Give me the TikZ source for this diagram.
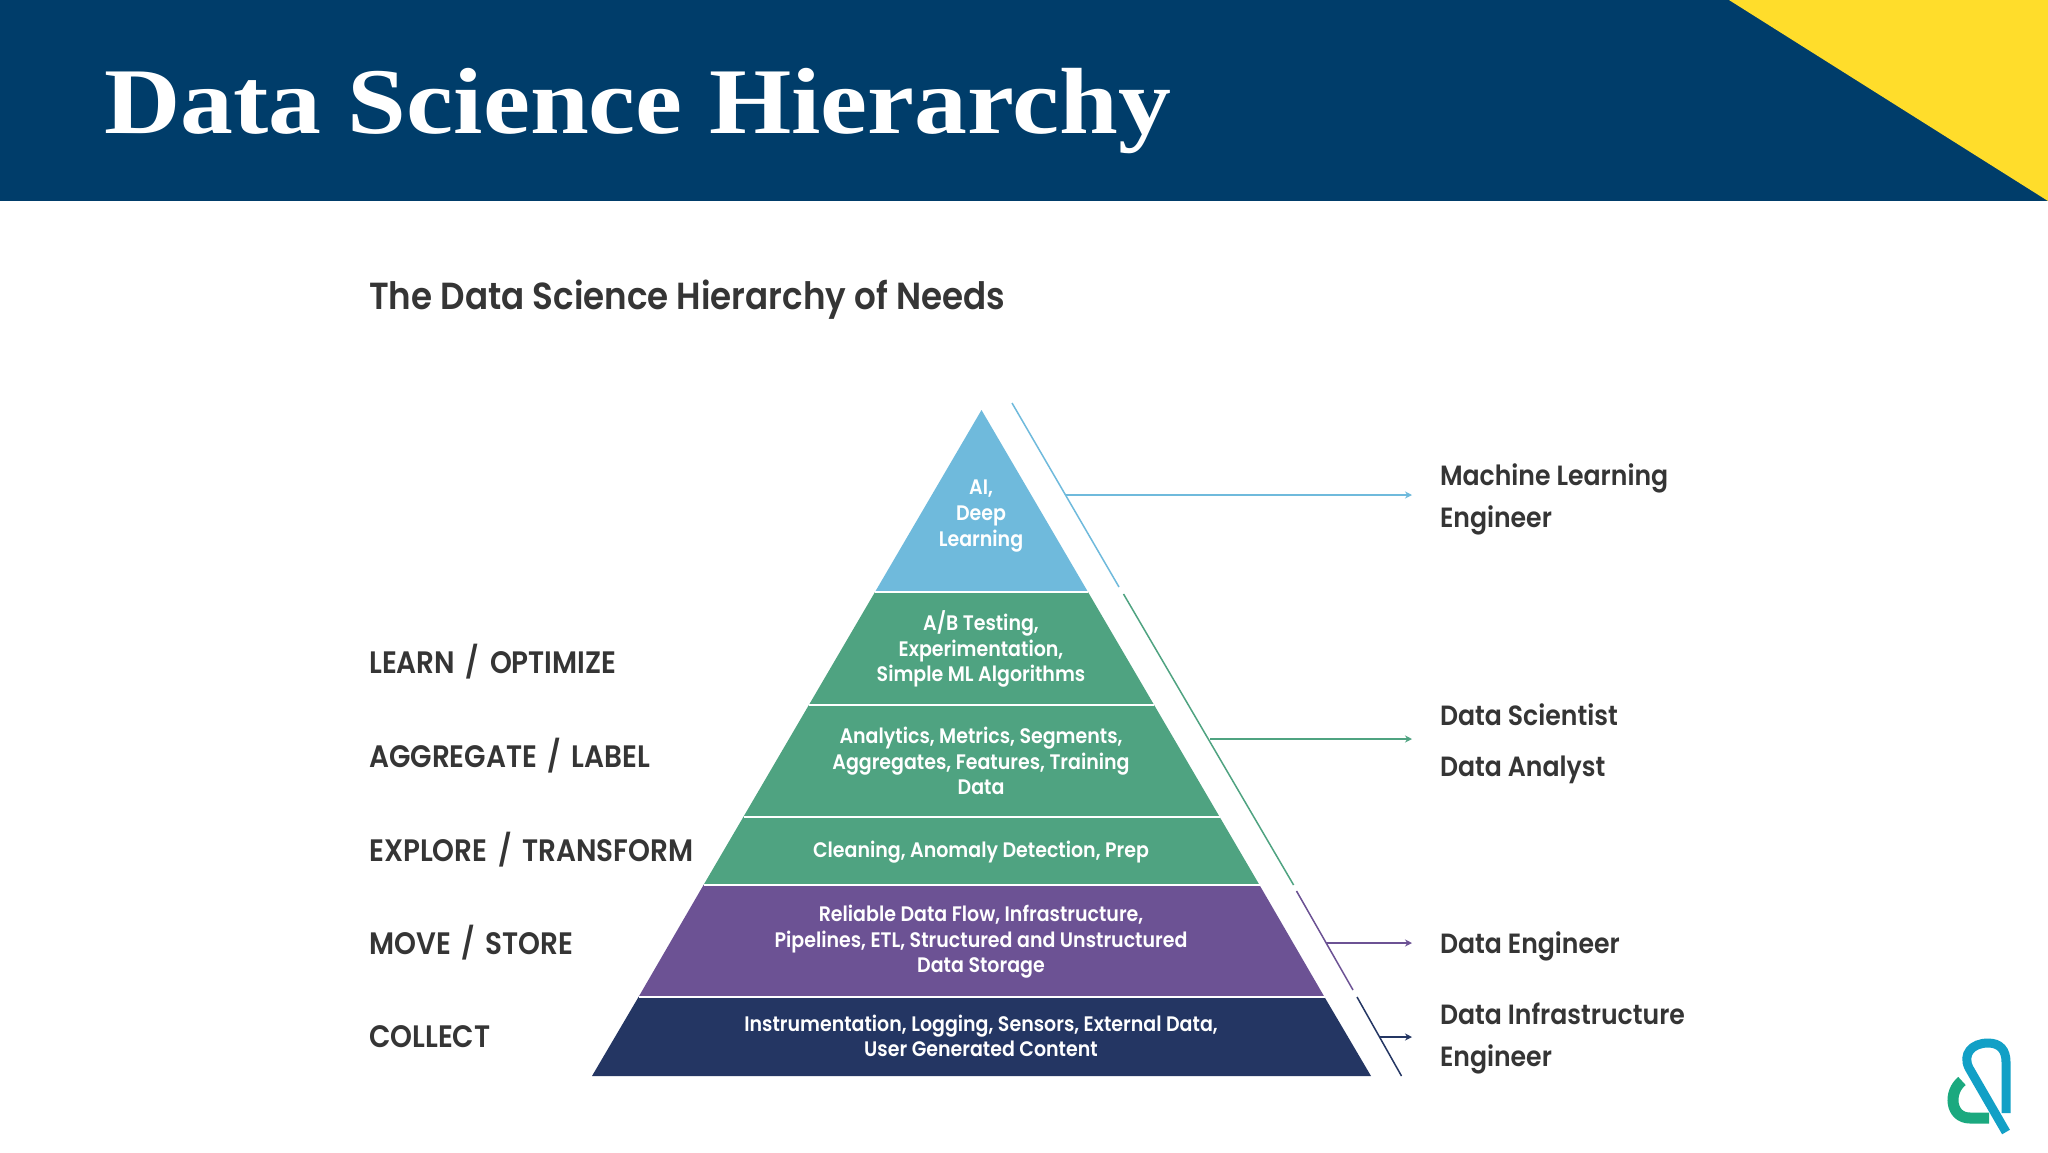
\documentclass[tikz,border=0pt]{standalone}
\usepackage{fontspec}
\usetikzlibrary{arrows.meta}
\usetikzlibrary{positioning}
\setmainfont{Liberation Serif}
\newfontfamily\titlefont[FakeStretch=1.125]{Liberation Serif}
\newfontfamily\slidefont[FakeStretch=0.905]{Poppins SemiBold}
\newfontfamily\sidefont[FakeStretch=0.9,WordSpace=1.6]{Poppins SemiBold}

\definecolor{headerblue}{HTML}{003D6A}
\definecolor{headeryellow}{HTML}{FFDD2B}
\definecolor{tiersky}{HTML}{6FBADC}
\definecolor{tiergreen}{HTML}{4FA381}
\definecolor{tierpurple}{HTML}{6C5294}
\definecolor{tiernavy}{HTML}{243663}
\definecolor{inktext}{HTML}{353535}
\definecolor{logoblue}{HTML}{12A0C6}
\definecolor{logogreen}{HTML}{1BA97F}

\tikzset{
    tiertext/.style={text=white, align=center, inner sep=0pt, font=\slidefont\fontsize{21}{25.6}\selectfont},
    sidelabel/.style={text=inktext, anchor=west, inner sep=0pt, font=\sidefont\fontsize{31}{34}\selectfont},
    rolelabel/.style={text=inktext, align=left, inner sep=0pt, outer sep=0pt,
        font=\slidefont\fontsize{27.8}{42}\selectfont},
    rolearrow/.style={-{Stealth[length=7pt,width=7pt]}, line width=1.5pt},
    slope/.style={line width=1.5pt},
    parting/.style={white, line width=1.6pt},
}

\begin{document}
\begin{tikzpicture}[x=1pt,y=-1pt]

    \useasboundingbox (0,0) rectangle (2048,1152);
    \fill[white] (0,0) rectangle (2048,1152);

    % header
    \fill[headerblue] (0,0) rectangle (2048,201);
    \fill[headeryellow] (1729,0) -- (2048,0) -- (2048,201) -- cycle;
    \node[anchor=base west, inner sep=0pt, text=white, font=\titlefont\fontsize{94}{94}\selectfont\bfseries] (title) at (104,133) {Data Science Hierarchy};
    \node[anchor=base west, inner sep=0pt, text=inktext, font=\slidefont\fontsize{37.7}{37.7}\selectfont] (subtitle) at (369,309) {The Data Science Hierarchy of Needs};

    % pyramid
    \fill[tiersky] (981.5,410) -- (1088,592) -- (875,592) -- cycle;
    \fill[tiergreen] (875,592) -- (1088,592) -- (1259.5,885) -- (703.5,885) -- cycle;
    \fill[tierpurple] (703.5,885) -- (1259.5,885) -- (1324.5,997) -- (638.5,997) -- cycle;
    \fill[tiernavy] (638.5,997) -- (1324.5,997) -- (1371,1076) -- (592,1076) -- cycle;
    \foreach \y/\l/\r in {592/875/1088, 705/809/1154, 817/743.5/1219.5, 885/703.5/1259.5, 997/638.5/1324.5}
        \draw[parting] (\l,\y) -- (\r,\y);

    \node[tiertext] (ai)      at (981,516) {AI,\\Deep\\Learning};
    \node[tiertext] (ab)      at (981,649) {A/B Testing,\\Experimentation,\\Simple ML Algorithms};
    \node[tiertext] (metrics) at (981,761) {Analytics, Metrics, Segments,\\Aggregates, Features, Training\\Data};
    \node[tiertext] (clean)   at (981,852) {Cleaning, Anomaly Detection, Prep};
    \node[tiertext] (flow)    at (981,942) {Reliable Data Flow, Infrastructure,\\Pipelines, ETL, Structured and Unstructured\\Data Storage};
    \node[tiertext] (instr)   at (981,1036) {Instrumentation, Logging, Sensors, External Data,\\User Generated Content};

    % left column
    \node[sidelabel] (learn)     at (369,662) {LEARN / OPTIMIZE};
    \node[sidelabel] (aggregate) at (369,756) {AGGREGATE / LABEL};
    \node[sidelabel] (explore)   at (369,850) {EXPLORE / TRANSFORM};
    \node[sidelabel] (move)      at (369,943) {MOVE / STORE};
    \node[sidelabel] (collect)   at (369,1037) {COLLECT};

    % right column
    \coordinate (mlend)   at (1412,495);
    \coordinate (dsend)   at (1412,739);
    \coordinate (deend)   at (1412,943);
    \coordinate (dieend)  at (1412,1037);

    \node[rolelabel] (mlrole)  [right = 28pt of mlend, yshift=-4pt]  {Machine Learning\\Engineer};
    \node[rolelabel] (dsrole)  [right = 28pt of dsend, yshift=-5pt]  {Data Scientist\\[9pt]Data Analyst};
    \node[rolelabel] (derole)  [right = 28pt of deend, yshift=-3pt]  {Data Engineer};
    \node[rolelabel] (dierole) [right = 28pt of dieend, yshift=-1pt] {Data Infrastructure\\Engineer};

    \coordinate (mlstart)  at (1065,495);
    \coordinate (dsstart)  at (1210,739);
    \coordinate (destart)  at (1326,943);
    \coordinate (diestart) at (1380,1037);

    \draw[rolearrow, tiersky]    (mlstart)  -- (mlend);
    \draw[rolearrow, tiergreen]  (dsstart)  -- (dsend);
    \draw[rolearrow, tierpurple] (destart)  -- (deend);
    \draw[rolearrow, tiernavy]   (diestart) -- (dieend);

    % slanted rules
    \draw[slope, tiersky]    (1012,403)    -- (1119,587);
    \draw[slope, tiergreen]  (1123.5,594)  -- (1293.6,885);
    \draw[slope, tierpurple] (1296.5,891)  -- (1353,990);
    \draw[slope, tiernavy]   (1357,997)    -- (1401.5,1076);

    % logo
    \draw[logoblue, line width=9pt] (2006,1132) -- (1969,1068) .. controls (1962,1054) and (1972,1043) .. (1988,1043) .. controls (2000,1043) and (2006,1050) .. (2006,1062) -- (2006,1113);
    \draw[logogreen, line width=11pt] (1962,1081) .. controls (1948,1092) and (1950,1118) .. (1970,1118) -- (1989,1118);

\end{tikzpicture}
\end{document}
